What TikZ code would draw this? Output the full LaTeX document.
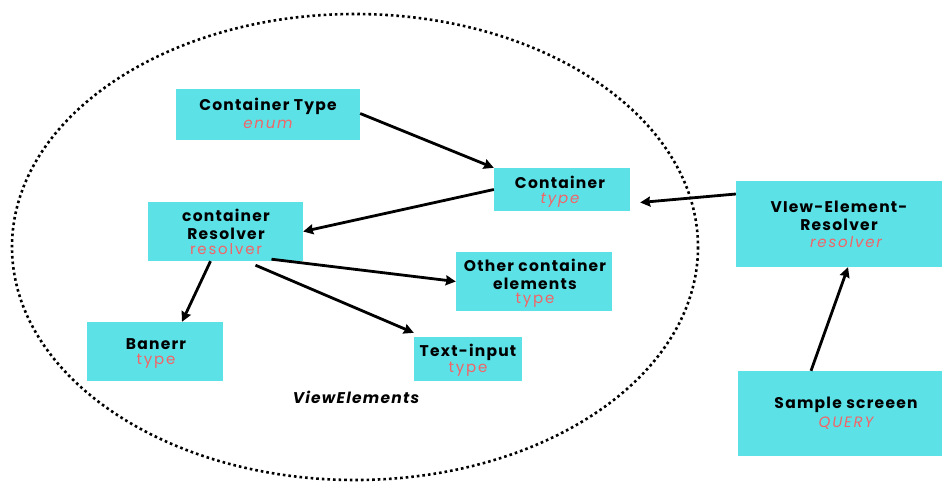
\documentclass[tikz,border=0pt]{standalone}
\usepackage{fontspec}
\setmainfont{Poppins}
\newfontfamily\labelfont[LetterSpace=8]{Poppins Bold}
\newfontfamily\tagfont[LetterSpace=12]{Poppins}
\newfontfamily\tagitfont[LetterSpace=12]{Poppins Italic}
\newfontfamily\groupfont[LetterSpace=8]{Poppins Bold Italic}
\usetikzlibrary{arrows.meta}
\definecolor{boxcyan}{HTML}{5CE1E6}
\definecolor{tagred}{HTML}{F26467}
\tikzset{
  blk/.style={fill=boxcyan, draw=none, inner sep=0pt},
  lbl/.style={align=center, font=\fontsize{15.5}{18}\labelfont, text=black},
  tagu/.style={font=\fontsize{15}{18}\tagfont, text=tagred},
  tagi/.style={font=\fontsize{15}{18}\tagitfont, text=tagred},
  link/.style={line width=2.8pt, -{Stealth[length=10pt,width=10pt,inset=1pt]}},
}
\newcommand{\boxat}[5]{% name, x1, y1, x2, y2
  \node[blk, minimum width={#4-#2}, minimum height={#5-#3}] (#1) at ({(#2+#4)/2},{(#3+#5)/2}) {};}
\begin{document}
\begin{tikzpicture}[x=1pt,y=-1pt]
  \useasboundingbox (0,0) rectangle (942,483);
  \fill[white] (0,0) rectangle (942,483);

  % group outline
  \draw[line width=2.6pt, dash pattern=on 2.6pt off 3pt] (355,247) ellipse [x radius=343, y radius=233];
  \node[font=\fontsize{15.5}{18}\groupfont] (grp) at (356,397) {ViewElements};

  % boxes
  \boxat{ct}{176}{89}{360}{140}
  \boxat{c}{494}{168}{630}{211}
  \boxat{cr}{148}{202}{303}{261}
  \boxat{ver}{736}{181}{942}{267}
  \boxat{oc}{456}{252}{612}{311}
  \boxat{bn}{87}{322}{223}{381}
  \boxat{ti}{414}{337}{522}{381}
  \boxat{ss}{738}{371}{942}{456}

  % labels
  \node[lbl] (ctl) at (268,106) {Container Type};
  \node[tagi] (ctt) at (268,124) {enum};
  \node[lbl] (cl) at (560,182) {Container};
  \node[tagi] (ctp) at (560,200) {type};
  \node[lbl] (crl) at (226,224) {container\\Resolver};
  \node[tagu] (crt) at (226,249) {resolver};
  \node[lbl] (verl) at (839,216) {VIew-Element-\\Resolver};
  \node[tagi] (vert) at (846,242) {resolver};
  \node[lbl] (ocl) at (535,274) {Other container\\elements};
  \node[tagu] (oct) at (535,300) {type};
  \node[lbl] (bnl) at (156,344) {Banerr};
  \node[tagu] (bnt) at (156,361) {type};
  \node[lbl] (til) at (468,352) {Text-input};
  \node[tagu] (tit) at (468,369) {type};
  \node[lbl] (ssl) at (846,405) {Sample screeen};
  \node[tagi] (sst) at (846,423) {QUERY};

  % connectors
  \draw[link] (ct.east) ++(0,-1) -- (c.north west);
  \draw[link] (c.west) -- (cr.east);
  \draw[link] ([yshift=30pt]ver.west) -- ([xshift=10pt,yshift=-13pt]c.east);
  \draw[link] ([xshift=-15pt]cr.south) -- ([xshift=27pt]bn.north);
  \draw[link] ([xshift=46pt,yshift=2pt]cr.south) -- (oc.west);
  \draw[link] ([xshift=30pt,yshift=-4pt]cr.south) -- ([yshift=4pt]ti.north west);
  \draw[link] ([xshift=-29pt]ss.north) -- ([xshift=9pt]ver.south);
\end{tikzpicture}
\end{document}
